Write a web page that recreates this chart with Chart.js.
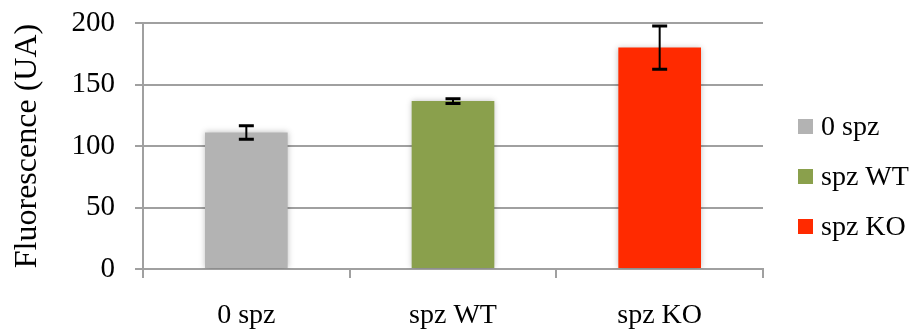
<!DOCTYPE html>
<html>
<head>
<meta charset="utf-8">
<title>Fluorescence</title>
<script src="https://cdn.jsdelivr.net/npm/chart.js"></script>
<style>
  html, body { margin: 0; padding: 0; background: #fff; }
  #wrap { width: 914px; height: 332px; }
</style>
</head>
<body>
<div id="wrap"><canvas id="chart"></canvas></div>
<script>
// Data
const categories = ['0 spz', 'spz WT', 'spz KO'];
const means = [111, 136.5, 180];
const errors = [5.5, 2, 17.5];
const colors = ['#b3b3b3', '#8aa04c', '#ff2a00'];
const yTicks = [0, 50, 100, 150, 200];

const FONT = '"Liberation Serif", "Times New Roman", serif';
const GRID = '#a0a0a0';

// soft shadow behind the bars
const barShadow = {
  id: 'barShadow',
  beforeDatasetsDraw(chart) {
    const ctx = chart.ctx;
    ctx.save();
    ctx.shadowColor = 'rgba(0,0,0,0.25)';
    ctx.shadowBlur = 6;
  },
  afterDatasetsDraw(chart) {
    chart.ctx.restore();
  }
};

// error bars drawn through the scales
const errorBars = {
  id: 'errorBars',
  afterDatasetsDraw(chart) {
    const ctx = chart.ctx;
    const y = chart.scales.y;
    const meta = chart.getDatasetMeta(0);
    ctx.save();
    ctx.strokeStyle = '#000';
    meta.data.forEach((bar, i) => {
      const x = bar.x;
      const top = y.getPixelForValue(means[i] + errors[i]);
      const bot = y.getPixelForValue(means[i] - errors[i]);
      ctx.lineWidth = 2;
      ctx.beginPath();
      ctx.moveTo(x, top); ctx.lineTo(x, bot);
      ctx.stroke();
      ctx.lineWidth = 3;
      ctx.beginPath();
      ctx.moveTo(x - 7.5, top); ctx.lineTo(x + 7.5, top);
      ctx.moveTo(x - 7.5, bot); ctx.lineTo(x + 7.5, bot);
      ctx.stroke();
    });
    ctx.restore();
  }
};

// legend on the right
const sideLegend = {
  id: 'sideLegend',
  afterDraw(chart) {
    const ctx = chart.ctx;
    ctx.save();
    ctx.font = '28px ' + FONT;
    ctx.textBaseline = 'middle';
    categories.forEach((c, i) => {
      const cy = 126 + i * 50;
      ctx.fillStyle = colors[i];
      ctx.fillRect(798, cy - 7, 15, 15);
      ctx.fillStyle = '#000';
      ctx.fillText(c, 821, cy + 2);
    });
    ctx.restore();
  }
};

new Chart(document.getElementById('chart'), {
  type: 'bar',
  data: {
    labels: categories,
    datasets: [{
      label: 'Fluorescence',
      data: means,
      backgroundColor: colors,
      borderWidth: 0,
      categoryPercentage: 1,
      barPercentage: 0.4
    }]
  },
  options: {
    responsive: true,
    maintainAspectRatio: false,
    animation: false,
    layout: { padding: { top: 23, right: 151, left: 0, bottom: 0 } },
    plugins: {
      legend: { display: false },
      tooltip: { enabled: false }
    },
    scales: {
      x: {
        grid: { drawOnChartArea: false, drawTicks: true, tickLength: 9, color: GRID, lineWidth: 2, offset: true },
        border: { color: GRID, width: 2 },
        ticks: { color: '#000', font: { family: FONT, size: 28 }, padding: 21 },
        afterFit(scale) { scale.height = 63; }
      },
      y: {
        min: 0,
        max: 200,
        afterBuildTicks(scale) { scale.ticks = yTicks.map(v => ({ value: v })); },
        grid: { color: GRID, lineWidth: 2, tickLength: 8 },
        border: { color: GRID, width: 2 },
        ticks: { color: '#000', font: { family: FONT, size: 29 }, padding: 20 },
        title: {
          display: true,
          text: 'Fluorescence (UA)',
          color: '#000',
          font: { family: FONT, size: 32 },
          padding: { top: 8, bottom: 0 }
        },
        afterFit(scale) {
          scale.width = 143;
          scale.paddingTop = 0;
          scale.paddingBottom = 0;
        }
      }
    }
  },
  plugins: [barShadow, errorBars, sideLegend]
});
</script>
</body>
</html>
